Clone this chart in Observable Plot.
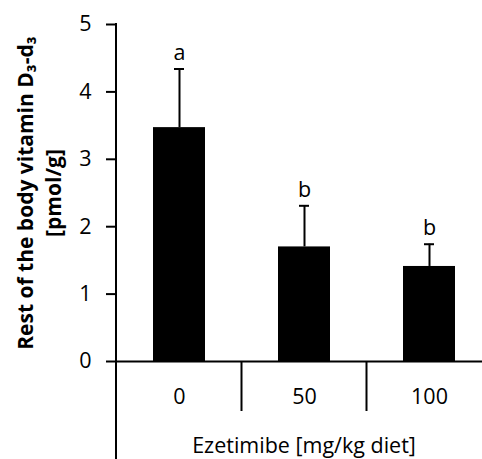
<!DOCTYPE html>
<html>
<head>
<meta charset="utf-8">
<script src="https://cdn.jsdelivr.net/npm/d3@7"></script>
<script src="https://cdn.jsdelivr.net/npm/@observablehq/plot@0.6"></script>
<style>
  html, body { margin: 0; padding: 0; background: white; }
  #chart { width: 482px; height: 459px; overflow: hidden; }
</style>
</head>
<body>
<div id="chart"></div>
<script>
// Data
const doses = ["0", "50", "100"];
const means = [3.47, 1.70, 1.41];
const errs = [0.87, 0.61, 0.33];
const letters = ["a", "b", "b"];
const yTicks = [0, 1, 2, 3, 4, 5];
const xTitle = "Ezetimibe [mg/kg diet]";
const yTitle = "Rest of the body vitamin D₃-d₃\n[pmol/g]";

const data = doses.map((d, i) => ({dose: d, mean: means[i], err: errs[i], letter: letters[i]}));

const FONT = "'Open Sans', Lato, sans-serif";
const FS = 21.5;

// category dividers below the x axis and the long y-axis line
function axisLines(index, scales, values, dimensions) {
  const x = scales.x, y = scales.y;
  const bw = typeof x.bandwidth === "function" ? x.bandwidth() : (x.bandwidth || 0);
  const g = d3.create("svg:g").attr("stroke", "black").attr("stroke-width", 2);
  for (let i = 0; i < doses.length - 1; i++) {
    const bx = (x(doses[i]) + x(doses[i + 1])) / 2 + bw / 2;
    g.append("line").attr("x1", bx).attr("x2", bx).attr("y1", y(0)).attr("y2", y(0) + 50);
  }
  const lx = dimensions.marginLeft;
  g.append("line").attr("x1", lx).attr("x2", lx).attr("y1", y(5) - 1).attr("y2", dimensions.height);
  return g.node();
}

const chart = Plot.plot({
  width: 482,
  height: 459,
  marginLeft: 116,
  marginTop: 24,
  marginBottom: 98,
  marginRight: 0,
  style: {fontFamily: FONT, fontSize: FS + "px", color: "black", background: "white"},
  x: {domain: doses, range: [116, 491], paddingInner: 0.584, paddingOuter: 0.292, axis: null},
  y: {domain: [0, 5], axis: null},
  marks: [
    Plot.barY(data, {x: "dose", y: "mean", fill: "black"}),
    Plot.ruleX(data, {x: "dose", y1: "mean", y2: d => d.mean + d.err, stroke: "black", strokeWidth: 2}),
    Plot.tickY(data, {x: "dose", y: d => d.mean + d.err, stroke: "black", strokeWidth: 2, insetLeft: 21, insetRight: 21}),
    Plot.text(data, {x: "dose", y: d => d.mean + d.err, text: "letter", dy: -9, lineAnchor: "bottom", fontSize: FS, fill: "black"}),
    Plot.axisY({ticks: yTicks, tickSize: 10, tickPadding: 15, strokeWidth: 2, fontSize: FS, label: null, tickFormat: d => String(d)}),
    Plot.ruleY([0], {stroke: "black", strokeWidth: 2}),
    axisLines,
    Plot.axisX({tickSize: 0, tickPadding: 27, fontSize: FS, label: null}),
    Plot.text([xTitle], {frameAnchor: "bottom", dx: 4.5, dy: 91, lineAnchor: "bottom", fontSize: FS, fill: "black"}),
    Plot.text([yTitle], {frameAnchor: "left", dx: -56, rotate: -90, lineAnchor: "bottom", lineHeight: 1.33, fontSize: 21, fontWeight: "bold", fill: "black", textAnchor: "middle"})
  ]
});
document.getElementById("chart").appendChild(chart);
</script>
</body>
</html>
